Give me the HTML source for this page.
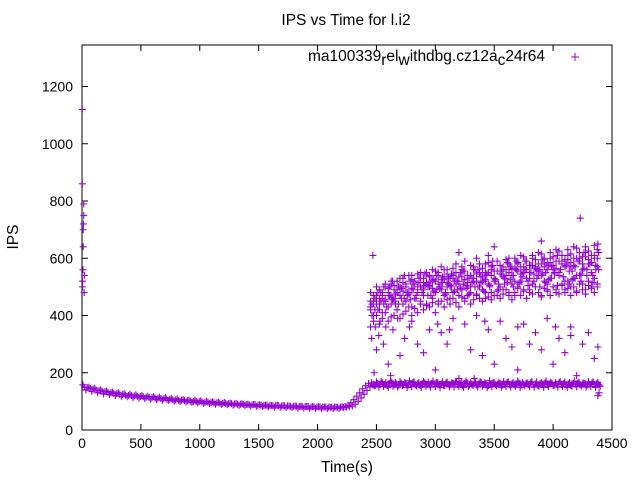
<!DOCTYPE html>
<html><head><meta charset="utf-8"><style>
body{margin:0;background:#fff}
svg{display:block;font-family:"Liberation Sans",sans-serif}
</style></head><body>
<svg id="c" width="640" height="480">
<rect width="640" height="480" fill="#fff"/>
<text x="346" y="25" font-size="15.5" text-anchor="middle">IPS vs Time for l.i2</text>
<text x="18" y="237" font-size="15.5" text-anchor="middle" transform="rotate(-90 18 237)">IPS</text>
<text x="347" y="472" font-size="15.5" text-anchor="middle">Time(s)</text>
<g><text x="545" y="61" font-size="15.5" text-anchor="end">ma100339<tspan dy="4">r</tspan><tspan dy="-4">el</tspan><tspan dy="4">w</tspan><tspan dy="-4">ithdbg.cz12a</tspan><tspan dy="4">c</tspan><tspan dy="-4">24r64</tspan></text></g>
<g id="axes"></g><g id="pts"></g>
</svg>
<script>
const xTicks=[0,500,1000,1500,2000,2500,3000,3500,4000,4500];
const yTicks=[0,200,400,600,800,1000,1200];
const earlyPts=[[5,500],[5,520],[8,560],[10,640],[10,700],[12,720],[15,750],[15,790],[3,1120],[3,860],[18,480],[20,540]];
const decayVals=[150,148,145,143,140,138,136,134,132,130,128,127,125,124,122,121,120,119,118,117,116,115,114,113,112,111,110,109,108,107,106,105,104,104,103,102,101,100,100,99,98,97,97,96,95,95,94,93,93,92,92,91,90,90,89,89,88,88,88,87,87,86,86,86,85,85,85,84,84,84,83,83,83,82,82,82,82,81,81,81,81,80,80,80,80,80,80,80,79,80,81,84,90,100,112,125,138,150,158];
const decayVals2=[158,140,150,135,146,130,140,126,136,124,133,120,130,118,127,116,125,113,123,112,120,110,118,108,117,106,115,104,113,103,111,101,109,99,107,98,105,96,104,95,102,93,100,92,99,90,97,89,96,88,94,87,93,86,92,85,90,84,89,83,88,82,87,81,86,80,86,79,85,78,84,78,84,77,83,77,82,76,82,76,81,76,81,75,80,75,80,76,81,82,86,95,106,118,130,144,155,162,165];
const lateBase=[160,156,163,158,165,160,155,162,167,158,161,156,164,159,163,157,160,166,158,162,155,161,164,159,157,163,160,166,158,161,156,164,160,158,163,167,159,161,156,162,165,158,160,163,157,161,166,159,162,155,160,164,158,161,163,157,160,166,159,162,158,161,164,157,160,163,159,166,158,161,156,162,160,164,158,161,163,157,160,165,159,162,158,161,156,163,160,164,158,161,163,157,160,165,159,162,158];
const lateBase2=[154,168,150,170,152,166,149,171,153,167,150,169,155,165,148,172,151,168,154,166,149,170,153,167,150,171,152,165,148,169,154,168,151,166,150,170,153,167,149,171,152,165,155,168,150,169,153,166,148,172,151,167,154,165,149,170,152,168,150,166,153,171,148,167,154,165,151,169,150,168,153,166,149,171,152,167,155,165,150,170,152,168,149,166,153,171,151,167,154,165,150,169,152,168,149,166,153];
const c1=[360,380,400,370,390,410,380,395,400,420,390,405,415,430,400,425,410,440,420,435,430,445,410,440,450,430,455,440,460,445,430,465,450,470,440,455,475,460,450,480,465,455,470,485,460,475,490,470,455,480,495,470,485,460,490,475,500,480,465,495,485,470,500,490,475,505,480,495,470,500,485,510,490,475,505,495,480,500];
const c2=[430,450,460,440,470,455,480,465,450,490,470,485,500,475,495,510,480,500,490,515,505,495,520,510,500,525,515,505,530,520,510,535,525,515,540,530,520,545,535,525,550,540,530,555,545,535,560,550,540,565,555,545,570,560,550,575,565,555,580,570,560,585,575,565,590,580,570,595,585,575,600,590,580,605,595,585,610,600];
const c3=[480,470,500,490,460,510,495,520,505,480,530,515,500,540,525,510,545,530,515,550,535,520,555,540,525,560,545,530,565,550,535,570,555,540,575,560,545,580,565,550,585,570,555,590,575,560,595,580,565,600,585,570,605,590,575,610,595,580,615,600,585,620,605,590,625,610,595,630,615,600,635,620,605,640,625,610,645,630];
const c4=[450,440,470,460,480,500,470,510,490,520,500,530,510,480,540,520,500,550,530,510,540,560,520,550,570,530,560,500,540,580,520,560,590,540,500,570,600,550,520,580,610,560,530,590,500,570,540,600,560,520,580,610,550,590,530,600,570,620,540,580,510,600,560,630,550,590,520,610,570,640,540,600,560,620,580,550,600,570];
const c5=[420,400,440,420,410,450,430,440,460,420,470,440,450,480,430,460,490,450,470,440,500,460,480,450,490,470,500,460,480,510,470,490,460,500,480,520,470,500,490,460,510,480,520,470,500,490,530,480,510,470,500,520,490,530,480,510,500,540,470,520,490,530,500,480,540,510,490,520,500,530,480,540,510,490,520,500,530,510];
const c6=[400,460,420,480,440,430,500,455,475,440,495,460,480,455,510,470,530,490,505,470,520,485,540,495,515,480,535,500,520,490,550,510,495,530,515,560,500,535,520,545,505,590,525,510,555,530,515,570,540,590,510,545,560,520,575,545,530,560,595,550,525,570,545,610,560,535,580,555,525,570,590,545,620,560,580,540,575,560];
const c7=[440,420,480,450,500,430,470,520,440,500,460,540,470,520,490,460,515,480,545,500,470,525,490,500,535,475,510,545,485,520,495,555,505,475,530,500,560,515,485,540,500,575,520,490,545,510,585,525,500,560,515,535,590,505,550,520,560,500,545,515,575,530,550,505,560,535,575,510,555,530,590,520,565,540,580,515,560,620];
const outliers=[[2470,610],[2500,280],[2520,330],[2560,300],[2600,230],[2640,350],[2700,260],[2740,320],[2800,380],[2850,300],[2900,270],[2950,350],[3000,210],[3050,340],[3100,300],[3150,390],[3200,180],[3250,370],[3300,280],[3350,400],[3400,260],[3450,350],[3500,230],[3550,380],[3600,320],[3650,290],[3700,210],[3750,370],[3800,300],[3850,340],[3900,280],[3950,390],[4000,230],[4050,320],[4100,270],[4150,360],[4200,190],[4250,300],[4300,340],[4350,250],[4380,290],[4390,130],[2480,200],[2620,190],[3330,180],[4230,740],[4380,650],[3900,660],[3500,640],[3200,620],[4380,120],[2460,320],[2490,360],[2530,380],[2580,360],[2680,390],[2780,360],[3020,370],[3120,350],[3420,380],[3700,360],[4020,360],[4150,330]];
const X0=82,X1=612,Y0=430,Y1=45,XMAX=4500,YMAX=(430-45)/((430-86.5)/1200);
const sx=v=>X0+v/XMAX*(X1-X0), sy=v=>Y0-v/YMAX*(Y0-Y1);
const NS="http://www.w3.org/2000/svg";
const axes=document.getElementById('axes'), pts=document.getElementById('pts');
function mk(p,tag,at){const e=document.createElementNS(NS,tag);for(const k in at)e.setAttribute(k,at[k]);p.appendChild(e);return e;}
const fr=mk(axes,'rect',{x:X0,y:Y1,width:X1-X0,height:Y0-Y1,fill:'none',stroke:'#000','stroke-width':1});


xTicks.forEach(t=>{const x=sx(t);
 mk(axes,'line',{x1:x,x2:x,y1:Y0,y2:Y0-6,stroke:'#000'});
 mk(axes,'line',{x1:x,x2:x,y1:Y1,y2:Y1+6,stroke:'#000'});
 const l=mk(axes,'text',{x:x,y:Y0+18,'font-size':14,'text-anchor':'middle'});l.textContent=t;
 
 });
yTicks.forEach(t=>{const y=sy(t);
 mk(axes,'line',{x1:X0,x2:X0+6,y1:y,y2:y,stroke:'#000'});
 mk(axes,'line',{x1:X1,x2:X1-6,y1:y,y2:y,stroke:'#000'});
 const l=mk(axes,'text',{x:X0-9,y:y+5,'font-size':14,'text-anchor':'end'});l.textContent=t;
 
 });
let d='';
function plus(t,v){const x=sx(t),y=sy(v);d+=`M${x-3.5} ${y}h7M${x} ${y-3.5}v7`;}
earlyPts.forEach(p=>plus(p[0],p[1]));
decayVals.forEach((v,i)=>plus(20+25*i,v));
decayVals2.forEach((v,i)=>plus(8+25*i,v));
lateBase.forEach((v,i)=>plus(2470+20*i,v));
lateBase2.forEach((v,i)=>plus(2480+20*i,v));
[c1,c2,c3,c4,c5].forEach(s=>s.forEach((v,i)=>plus(2450+25*i,v)));
[c6,c7].forEach(s=>s.forEach((v,i)=>plus(2462+25*i,v)));
outliers.forEach(p=>plus(p[0],p[1]));
const path=mk(pts,'path',{d:d,stroke:'#9400d3','stroke-width':1.1,fill:'none'});


const lk=mk(pts,'path',{d:'M571 57h8M575 53v8',stroke:'#9400d3','stroke-width':1});


</script>
</body></html>
